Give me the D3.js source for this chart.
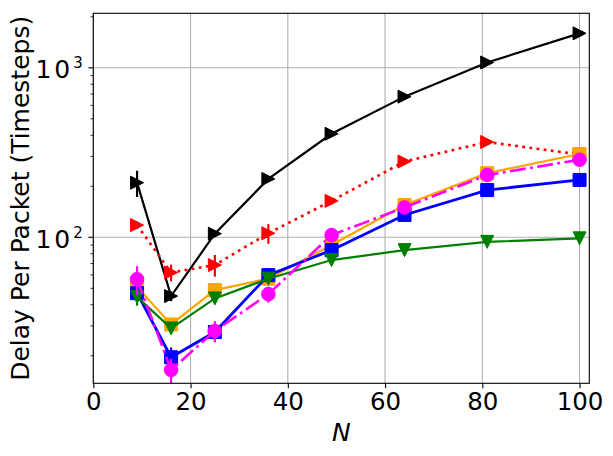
<!DOCTYPE html>
<html>
<head>
<meta charset="utf-8">
<script src="https://cdn.jsdelivr.net/npm/d3@7"></script>
<style>
  body { margin: 0; background: #fff; }
  svg { display: block; font-family: "DejaVu Sans", sans-serif; }
</style>
</head>
<body>
<svg width="613" height="456"></svg>
<script>
const nValues = [9, 16, 25, 36, 49, 64, 81, 100];

const blackVals = [210, 45, 105, 221, 408, 676, 1075, 1597];
const blackErr = [37, 3, 4, 8, 10, 15, 20, 25];
const redVals = [118, 62, 68.6, 105.6, 164, 280, 365, 308];
const redErr = [6, 7, 10, 14, 8, 12, 15, 12];
const orangeVals = [51, 30.6, 48.8, 57, 90, 155, 239, 310];
const orangeErr = [4, 2, 4, 4, 5, 8, 10, 12];
const blueVals = [46.8, 19.6, 27.6, 59.8, 84, 135.5, 190, 218];
const blueErr = [4, 2.8, 3, 6, 5, 8, 14, 14];
const greenVals = [44.5, 29, 43.6, 57, 73.4, 84, 94, 98.6];
const greenErr = [5, 2, 3, 3, 3, 3, 3, 3];
const magentaVals = [56.6, 16.5, 28, 46.2, 103, 150, 233, 287];
const magentaErr = [11, 2.7, 4, 5, 10, 8, 10, 12];

const xTicks = [0, 20, 40, 60, 80, 100];
const yMajor = [100, 1000];
const yMinor = [20, 30, 40, 50, 60, 70, 80, 90, 200, 300, 400, 500, 600, 700, 800, 900, 2000];

const svg = d3.select("svg");
const plotLeft = 93.3, plotRight = 589.3, plotTop = 13.3, plotBottom = 383.3;

const x = d3.scaleLinear().domain([0, 102]).range([plotLeft, plotRight]);
const y = d3.scaleLog().domain([13.76, 2097]).range([plotBottom, plotTop]);

// grid
const grid = svg.append("g").attr("stroke", "#b0b0b0").attr("stroke-width", 1.1);
grid.selectAll(".gx").data(xTicks).join("line")
  .attr("x1", d => x(d)).attr("x2", d => x(d))
  .attr("y1", plotTop).attr("y2", plotBottom);
grid.selectAll(".gy").data(yMajor).join("line")
  .attr("x1", plotLeft).attr("x2", plotRight)
  .attr("y1", d => y(d)).attr("y2", d => y(d));

// axes
const xAxis = svg.append("g")
  .attr("transform", `translate(0, ${plotBottom})`)
  .call(d3.axisBottom(x).tickValues(xTicks).tickSize(4.9).tickSizeOuter(0).tickPadding(4));
xAxis.select(".domain").remove();
xAxis.selectAll("line").attr("stroke-width", 1.1);
xAxis.selectAll("text").attr("font-size", 24.5).attr("font-family", "DejaVu Sans").attr("fill", "#000");

const yAxis = svg.append("g").attr("transform", `translate(${plotLeft}, 0)`);
yAxis.selectAll(".minor").data(yMinor).join("line")
  .attr("x1", 0).attr("x2", -2.8)
  .attr("y1", d => y(d)).attr("y2", d => y(d))
  .attr("stroke", "#000").attr("stroke-width", 0.8);
yAxis.selectAll(".major").data(yMajor).join("line")
  .attr("x1", 0).attr("x2", -4.9)
  .attr("y1", d => y(d)).attr("y2", d => y(d))
  .attr("stroke", "#000").attr("stroke-width", 1.1);
const yLabels = yAxis.selectAll(".lab").data(yMajor).join("text")
  .attr("x", -10.5).attr("y", d => y(d) + 10.6)
  .attr("text-anchor", "end").attr("fill", "#000");
yLabels.append("tspan").attr("font-size", 25).attr("letter-spacing", 3).text("10");
yLabels.append("tspan").attr("font-size", 15).attr("dy", -10)
  .text(d => String(Math.round(Math.log10(d))));

// series
const series = [
  { vals: blackVals, err: blackErr, color: "black", shape: "right", dash: null, w: 2.2 },
  { vals: redVals, err: redErr, color: "red", shape: "right", dash: "2.8,4.4", w: 2.6 },
  { vals: orangeVals, err: orangeErr, color: "orange", shape: "square", dash: null, w: 2.2 },
  { vals: blueVals, err: blueErr, color: "blue", shape: "square", dash: null, w: 2.8 },
  { vals: greenVals, err: greenErr, color: "green", shape: "down", dash: null, w: 2.2 },
  { vals: magentaVals, err: magentaErr, color: "magenta", shape: "circle", dash: "16,4.4,2.8,4.4", w: 2.6 }
];

const s = 13;
const shapes = {
  right: `M${s / 2},0L${-s / 2},${-s / 2}L${-s / 2},${s / 2}Z`,
  down: `M0,${s / 2}L${-s / 2},${-s / 2}L${s / 2},${-s / 2}Z`,
  square: `M${-s / 2},${-s / 2}H${s / 2}V${s / 2}H${-s / 2}Z`,
  circle: d3.symbol(d3.symbolCircle, Math.PI * (s / 2 + 0.3) ** 2)()
};

const line = d3.line().x(d => x(d[0])).y(d => y(d[1]));

series.forEach(sr => {
  const g = svg.append("g");
  const pts = nValues.map((n, i) => [n, sr.vals[i], sr.err[i]]);
  g.selectAll(".err").data(pts).join("line")
    .attr("x1", d => x(d[0])).attr("x2", d => x(d[0]))
    .attr("y1", d => y(d[1] - d[2])).attr("y2", d => y(d[1] + d[2]))
    .attr("stroke", sr.color).attr("stroke-width", 2.2);
  g.append("path").datum(pts)
    .attr("d", line)
    .attr("fill", "none")
    .attr("stroke", sr.color)
    .attr("stroke-width", sr.w)
    .attr("stroke-dasharray", sr.dash);
  g.selectAll(".mk").data(pts).join("path")
    .attr("transform", d => `translate(${x(d[0])}, ${y(d[1])})`)
    .attr("d", shapes[sr.shape])
    .attr("fill", sr.color)
    .attr("stroke", sr.color)
    .attr("stroke-width", 1);
});

// frame
svg.append("rect")
  .attr("x", plotLeft).attr("y", plotTop)
  .attr("width", plotRight - plotLeft).attr("height", plotBottom - plotTop)
  .attr("fill", "none").attr("stroke", "#000").attr("stroke-width", 1.1);

// axis titles
svg.append("text")
  .attr("x", (plotLeft + plotRight) / 2).attr("y", 441)
  .attr("text-anchor", "middle")
  .attr("font-size", 25).attr("font-style", "italic")
  .text("N");

svg.append("text")
  .attr("transform", `translate(28.5, ${(plotTop + plotBottom) / 2}) rotate(-90)`)
  .attr("text-anchor", "middle")
  .attr("font-size", 25)
  .text("Delay Per Packet (Timesteps)");
</script>
</body>
</html>
